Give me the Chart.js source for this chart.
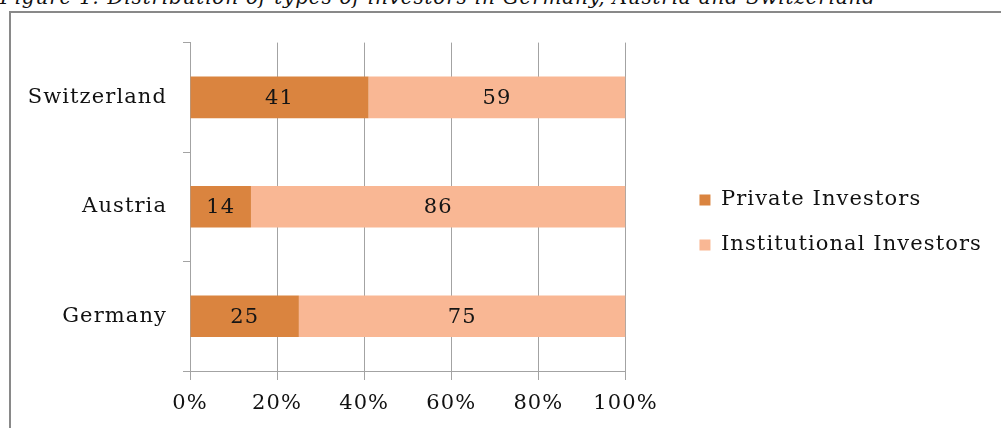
<!DOCTYPE html>
<html>
<head>
<meta charset="utf-8">
<script src="https://cdn.jsdelivr.net/npm/chart.js@4/dist/chart.umd.min.js"></script>
<style>
  html, body { margin: 0; padding: 0; background: #fff; overflow: hidden; }
  body { width: 1001px; height: 428px; position: relative; }
  #title {
    position: absolute; left: 0; top: -13px;
    font-family: "DejaVu Serif", serif; font-style: italic; font-size: 20px;
    letter-spacing: 0.8px; line-height: 20px; white-space: nowrap; color: #111;
  }
  #frame {
    position: absolute; left: 9px; top: 11px; width: 1100px; height: 500px;
    border-left: 2px solid #898989; border-top: 2px solid #898989;
  }
  #wrap { position: absolute; left: 12px; top: 14px; width: 989px; height: 414px; }
</style>
</head>
<body>
<div id="title">Figure 1: Distribution of types of investors in Germany, Austria and Switzerland</div>
<div id="frame"></div>
<div id="wrap"><canvas id="chart"></canvas></div>
<script>
// data (percent)
const countries = ['Switzerland', 'Austria', 'Germany'];
const privateInv = [41, 14, 25];
const institutionalInv = [59, 86, 75];
const xTicks = [0, 20, 40, 60, 80, 100];

const serif = '"DejaVu Serif", serif';
const fontSize = 21;
const spacing = '1.1px';   // widen DejaVu a bit to match the Georgia text widths
const gridCol = '#a3a3a3';
const legPad = 24, legBox = 11;

// size the canvas so that the plot ends at x=613 and the legend box sits at x=688
const mctx = document.createElement('canvas').getContext('2d');
mctx.font = fontSize + 'px ' + serif;
mctx.letterSpacing = spacing;
const textW = Math.max(...['Private Investors', 'Institutional Investors'].map(t => mctx.measureText(t).width));
const legendW = legPad + legBox + fontSize / 2 + textW + 10;
document.getElementById('wrap').style.width = Math.round(613 + 50 + legendW) + 'px';

const spacingPlugin = {
  id: 'spacing',
  beforeUpdate(chart) { chart.ctx.letterSpacing = spacing; },
  beforeDraw(chart) { chart.ctx.letterSpacing = spacing; }
};

// draws the value in the middle of each bar segment
const segmentLabels = {
  id: 'segmentLabels',
  afterDatasetsDraw(chart) {
    const ctx = chart.ctx;
    ctx.save();
    ctx.font = fontSize + 'px ' + serif;
    ctx.fillStyle = '#151515';
    ctx.textAlign = 'center';
    ctx.textBaseline = 'middle';
    chart.data.datasets.forEach((ds, i) => {
      chart.getDatasetMeta(i).data.forEach((bar, j) => {
        const p = bar.getCenterPoint();
        ctx.fillText(String(ds.data[j]), p.x, p.y + 1);
      });
    });
    ctx.restore();
  }
};

const hidden = {
  display: true,
  grid: { display: false },
  border: { display: false },
  ticks: { display: false }
};

new Chart(document.getElementById('chart'), {
  type: 'bar',
  data: {
    labels: countries,
    datasets: [
      { label: 'Private Investors', data: privateInv, backgroundColor: '#da843f' },
      { label: 'Institutional Investors', data: institutionalInv, backgroundColor: '#f9b794' }
    ]
  },
  options: {
    indexAxis: 'y',
    responsive: true,
    maintainAspectRatio: false,
    animation: false,
    layout: { padding: { top: 3, bottom: 0, left: 0, right: 0 } },
    datasets: { bar: { categoryPercentage: 1, barPercentage: 0.38, borderWidth: 0 } },
    scales: {
      x: {
        stacked: true,
        min: 0, max: 100,
        afterBuildTicks: s => { s.ticks = xTicks.map(v => ({ value: v })); },
        afterFit: s => { s.height = 57; },
        grid: { color: gridCol, tickLength: 9, drawTicks: true },
        border: { color: gridCol },
        ticks: {
          padding: 11,
          color: '#111',
          font: { family: serif, size: fontSize },
          callback: v => v + '%'
        }
      },
      y: {
        stacked: true,
        afterFit: s => { s.width = 178; },
        grid: { drawOnChartArea: false, drawTicks: true, tickLength: 7, color: gridCol, offset: true },
        border: { color: gridCol },
        ticks: { padding: 16, color: '#111', font: { family: serif, size: fontSize } }
      },
      // empty spacer axes: room above the plot and between plot and legend
      topGap: Object.assign({ type: 'linear', position: 'top', afterFit: s => { s.height = 24; } }, hidden),
      rightGap: Object.assign({ type: 'linear', position: 'right', afterFit: s => { s.width = 50; } }, hidden)
    },
    plugins: {
      tooltip: { enabled: false },
      legend: {
        position: 'right',
        align: 'center',
        maxWidth: 600,
        labels: {
          boxWidth: legBox, boxHeight: legBox, padding: legPad,
          color: '#111',
          font: { family: serif, size: fontSize }
        }
      }
    }
  },
  plugins: [spacingPlugin, segmentLabels]
});
</script>
</body>
</html>
